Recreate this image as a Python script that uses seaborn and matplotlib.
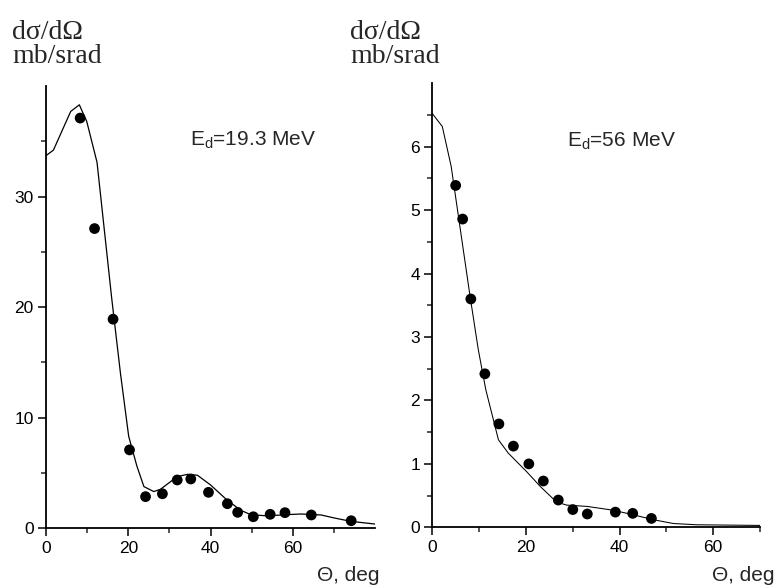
import matplotlib
matplotlib.use("Agg")
import matplotlib.pyplot as plt
import numpy as np
import pandas as pd
import seaborn as sns

# E_d = 19.3 MeV: experiment (points) and calculation (line)
exp19_theta = [8.3, 11.8, 16.3, 20.3, 24.2, 28.3, 31.9, 35.2, 39.5, 44.1,
               46.6, 50.4, 54.5, 58.1, 64.5, 74.2]
exp19_sigma = [37.1, 27.1, 18.9, 7.07, 2.84, 3.1, 4.35, 4.44, 3.23, 2.2,
               1.42, 1.02, 1.24, 1.39, 1.18, 0.66]
calc19_theta = [0.0, 1.8, 6.0, 8.1, 9.9, 12.4, 16.0, 18.1, 20.1, 22.1, 23.8,
                26.2, 27.8, 31.9, 34.4, 36.8, 40.0, 44.1, 47.4, 49.8, 53.9,
                58.0, 62.0, 66.9, 70.2, 74.2, 80.0]
calc19_sigma = [33.7, 34.2, 37.7, 38.3, 36.8, 33.1, 20.7, 14.0, 8.3, 5.6, 3.75,
                3.3, 3.5, 4.65, 4.86, 4.78, 3.9, 2.5, 1.6, 1.2, 1.1,
                1.2, 1.27, 1.18, 0.9, 0.6, 0.36]

# E_d = 56 MeV
exp56_theta = [4.96, 6.45, 8.2, 11.2, 14.2, 17.3, 20.6, 23.7, 26.9, 30.0,
               33.1, 39.1, 42.8, 46.8]
exp56_sigma = [5.39, 4.86, 3.6, 2.42, 1.63, 1.28, 1.0, 0.73, 0.43, 0.28,
               0.21, 0.24, 0.22, 0.14]
calc56_theta = [0.0, 2.1, 4.0, 8.0, 9.8, 11.4, 14.1, 16.2, 20.1, 23.1, 26.5,
                28.7, 33.0, 38.6, 42.8, 47.2, 51.5, 56.5, 70.0]
calc56_sigma = [6.52, 6.32, 5.69, 3.66, 2.8, 2.17, 1.38, 1.17, 0.88, 0.64, 0.40,
                0.35, 0.33, 0.27, 0.2, 0.12, 0.06, 0.04, 0.03]

# tick positions (the axis ends carry no label)
x19_major = [0, 20, 40, 60]
x19_minor = [10, 30, 50, 70]
y19_major = [0, 10, 20, 30]
y19_minor = [5, 15, 25, 35]
x56_major = [0, 20, 40, 60]
x56_minor = [10, 30, 50, 70]
y56_major = [0, 1, 2, 3, 4, 5, 6]
y56_minor = [0.5, 1.5, 2.5, 3.5, 4.5, 5.5, 6.5]

sns.set_style("ticks")
plt.rcParams["font.family"] = ["Liberation Sans", "DejaVu Sans"]
plt.rcParams["mathtext.default"] = "regular"

fig = plt.figure(figsize=(7.76, 5.88), dpi=100)
ax1 = fig.add_axes([0.0593, 0.1020, 0.4240, 0.7517])
ax2 = fig.add_axes([0.5573, 0.1032, 0.4220, 0.7551])

panels = [
    (ax1, calc19_theta, calc19_sigma, exp19_theta, exp19_sigma, (0, 80), (0, 40),
     x19_major, x19_minor, y19_major, y19_minor, "E$_d$=19.3 MeV", (0.438, 0.864), 0.9),
    (ax2, calc56_theta, calc56_sigma, exp56_theta, exp56_sigma, (0, 70), (0, 7),
     x56_major, x56_minor, y56_major, y56_minor, "E$_d$=56 MeV", (0.41, 0.857), 0.75),
]

for (ax, ct, cs, et, es, xlim, ylim, xmaj, xmin, ymaj, ymin,
     label, pos, lw) in panels:
    calc = pd.DataFrame({"theta": ct, "sigma": cs})
    exp = pd.DataFrame({"theta": et, "sigma": es})
    sns.lineplot(data=calc, x="theta", y="sigma", ax=ax, color="black",
                 linewidth=lw, sort=False, estimator=None)
    sns.scatterplot(data=exp, x="theta", y="sigma", ax=ax, color="black",
                    s=60, edgecolor="none", zorder=3)
    ax.set(xlim=xlim, ylim=ylim, xlabel="", ylabel="")
    ax.set_xticks(xmaj)
    ax.set_xticks(xmin, minor=True)
    ax.set_yticks(ymaj)
    ax.set_yticks(ymin, minor=True)
    ax.tick_params(which="major", direction="out", length=6, width=1.1,
                   labelsize=12.5, colors="black", pad=3)
    ax.tick_params(which="minor", direction="out", length=3.5, width=1.1)
    for side in ["top", "right"]:
        ax.spines[side].set_visible(False)
    for side in ["left", "bottom"]:
        ax.spines[side].set_linewidth(1.3)
        ax.spines[side].set_color("black")
    ax.set_facecolor("white")
    ax.text(pos[0], pos[1], label, transform=ax.transAxes, fontsize=15,
            va="baseline", ha="left")

# axis titles
for x0 in [12 / 776, 350 / 776]:
    fig.text(x0, 1 - 39 / 588, "dσ/dΩ", family="Liberation Serif", fontsize=20,
             va="baseline", ha="left")
    fig.text(x0, 1 - 63 / 588, "mb/srad", family="Liberation Serif", fontsize=20,
             va="baseline", ha="left")
fig.text(317 / 776, 1 - 581 / 588, "Θ, deg", fontsize=15, va="baseline", ha="left")
fig.text(712 / 776, 1 - 581 / 588, "Θ, deg", fontsize=15, va="baseline", ha="left")

fig.savefig("out.png", dpi=100, facecolor="white")
